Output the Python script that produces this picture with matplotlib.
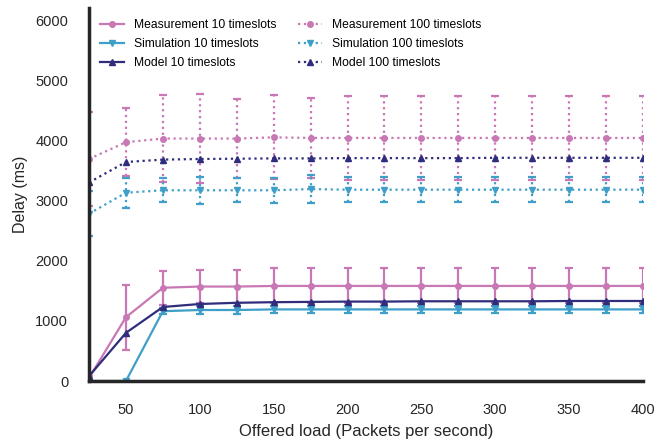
import numpy as np
import matplotlib.pyplot as plt

plt.rcParams['font.family'] = ['Liberation Sans', 'DejaVu Sans']

load = [25, 50, 75, 100, 125, 150, 175, 200, 225, 250, 275, 300, 325, 350, 375, 400]

meas10 = [50, 1060, 1550, 1570, 1570, 1580, 1580, 1580, 1580, 1580, 1580, 1580, 1580, 1580, 1580, 1580]
meas10_err = [30, 540, 280, 280, 280, 290, 290, 290, 290, 290, 290, 290, 290, 290, 290, 290]
sim10 = [0, 0, 1160, 1180, 1180, 1190, 1190, 1190, 1190, 1190, 1190, 1190, 1190, 1190, 1190, 1190]
sim10_err = [0, 0, 50, 60, 60, 60, 60, 60, 60, 60, 60, 60, 60, 60, 60, 60]
model10 = [80, 800, 1230, 1280, 1300, 1310, 1315, 1320, 1320, 1325, 1325, 1325, 1325, 1330, 1330, 1330]

meas100 = [3690, 3970, 4030, 4030, 4030, 4050, 4040, 4040, 4040, 4040, 4040, 4040, 4040, 4040, 4040, 4040]
meas100_err = [780, 570, 730, 740, 660, 700, 670, 700, 700, 700, 700, 700, 700, 700, 700, 700]
sim100 = [2780, 3130, 3170, 3170, 3170, 3170, 3190, 3180, 3180, 3180, 3180, 3180, 3180, 3180, 3180, 3180]
sim100_err = [370, 250, 200, 220, 200, 210, 230, 210, 210, 210, 210, 210, 210, 210, 210, 210]
model100 = [3300, 3640, 3680, 3690, 3695, 3700, 3700, 3705, 3705, 3705, 3705, 3710, 3710, 3710, 3710, 3710]

pink = '#c878b4'
blue = '#3f9fc8'
navy = '#2f2d7c'

fig = plt.figure(figsize=(6.7, 4.44), dpi=100)
ax = fig.add_axes([89 / 670, 63 / 444, 554 / 670, 373 / 444])

handles = []


def draw(y, err, color, marker, ls, label, ms):
    if err is not None:
        cont = ax.errorbar(load, y, yerr=err, fmt='none', ecolor=color,
                           capsize=3, capthick=1.6, elinewidth=1.6)
        for bl in cont[2]:
            bl.set_linestyle(ls)
    ln, = ax.plot(load, y, color=color, marker=marker, ls=ls, lw=1.6,
                  ms=ms, label=label)
    handles.append(ln)


draw(meas10, meas10_err, pink, 'o', '-', 'Measurement 10 timeslots', 4)
draw(sim10, sim10_err, blue, 'v', '-', 'Simulation 10 timeslots', 5)
draw(model10, None, navy, '^', '-', 'Model 10 timeslots', 5)
draw(meas100, meas100_err, pink, 'o', ':', 'Measurement 100 timeslots', 4)
draw(sim100, sim100_err, blue, 'v', ':', 'Simulation 100 timeslots', 5)
draw(model100, None, navy, '^', ':', 'Model 100 timeslots', 5)

ax.set_xlim(25, 400)
ax.set_ylim(0, 6200)
ax.set_xticks(np.arange(50, 401, 50))
ax.set_yticks(np.arange(0, 6001, 1000))
ax.tick_params(length=0, labelsize=10.5, colors='#262626')
ax.tick_params(axis='y', pad=15)
ax.tick_params(axis='x', pad=16)
for s in ['top', 'right']:
    ax.spines[s].set_visible(False)
for s in ['left', 'bottom']:
    ax.spines[s].set_linewidth(2.5)
    ax.spines[s].set_color('#262626')

ax.set_xlabel('Offered load (Packets per second)', fontsize=12, color='#262626', labelpad=5)
ax.set_ylabel('Delay (ms)', fontsize=11.5, color='#262626', labelpad=5)

ax.legend(handles=handles, loc='upper left', ncol=2, frameon=False, fontsize=8.7,
          handlelength=2.0, columnspacing=1.8, labelspacing=0.6,
          bbox_to_anchor=(0.0, 1.0))

fig.savefig('out.png', dpi=100)
